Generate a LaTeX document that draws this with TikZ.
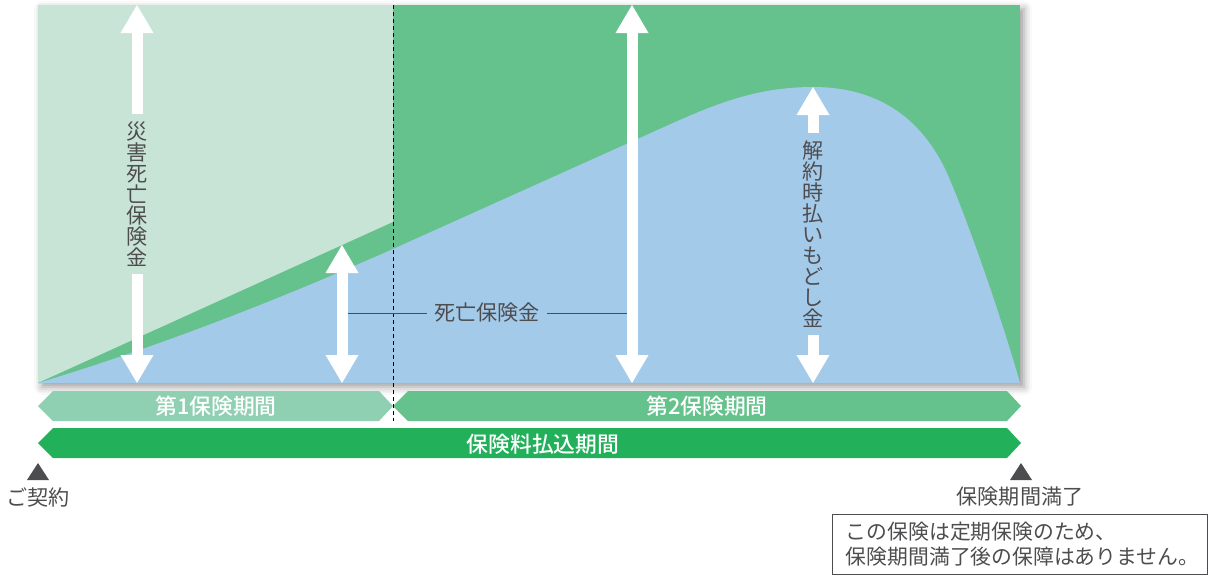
\documentclass[tikz,border=0pt]{standalone}
\usepackage{fontspec}
\setmainfont{Noto Sans CJK JP}
\newfontfamily\barfont{Noto Sans CJK JP Medium}
\usetikzlibrary{arrows.meta,shadows.blur}

\definecolor{palegrn}{HTML}{C8E4D6}
\definecolor{midgrn}{HTML}{65C28C}
\definecolor{termgrn}{HTML}{8FD0B2}
\definecolor{paygrn}{HTML}{22B05A}
\definecolor{valblue}{HTML}{A4CAEA}
\definecolor{txtgray}{HTML}{4D4D4F}

\tikzset{
  bigtip/.tip={Triangle[width=0.825cm,length=0.7cm,line width=0pt]},
  bigarrow/.style={draw=white, line width=0.275cm, -bigtip},
  bigdouble/.style={draw=white, line width=0.275cm, bigtip-bigtip},
  vlabel/.style={text=txtgray, font=\fontsize{15}{15}\selectfont, align=center, inner xsep=0pt, inner ysep=5pt},
  hlabel/.style={text=txtgray, font=\fontsize{15}{18}\selectfont, inner xsep=0.18cm, inner ysep=0pt},
  bartext/.style={text=white, font=\barfont\fontsize{15.5}{17}\selectfont},
  marklabel/.style={text=txtgray, font=\fontsize{15}{17}\selectfont},
  markhead/.style={fill=txtgray},
  notebox/.style={draw=txtgray, line width=0.6pt, text=txtgray, font=\fontsize{14.8}{17.8}\selectfont,
    text width=8.7cm, inner xsep=0.34cm, minimum height=1.5cm, align=left},
}

\begin{document}
\begin{tikzpicture}[x=0.025cm, y=-0.025cm]
  \useasboundingbox (0,0) rectangle (1208,575);
  % chart panels
  \fill[white, blur shadow={shadow xshift=0.1cm, shadow yshift=-0.1cm, shadow blur radius=0.2cm}] (38,5) rectangle (1020,383);
  \fill[palegrn] (38,5) rectangle (393,383);
  \fill[midgrn] (393,5) rectangle (1020,383);
  \fill[midgrn] (38,383) -- (393,222) -- (393,383) -- cycle;
  \fill[valblue] (38,383) .. controls (180,340) and (300,290) .. (393,249)
    -- (673,123) .. controls (720,102) and (760,87) .. (813,87)
    .. controls (880,87) and (925,120) .. (950,180)
    .. controls (975,240) and (1005,330) .. (1020,383) -- cycle;

  % term bars
  \fill[termgrn] (38,406) -- (53,391) -- (379,391) -- (393,406) -- (379,421) -- (53,421) -- cycle;
  \fill[midgrn] (393,406) -- (408,391) -- (1007,391) -- (1021,406) -- (1007,421) -- (408,421) -- cycle;
  \fill[paygrn] (38,443) -- (53,428) -- (1007,428) -- (1021,443) -- (1007,458) -- (53,458) -- cycle;
  \node[bartext] (term1) at (216,406) {第1保険期間};
  \node[bartext] (term2) at (707,406) {第2保険期間};
  \node[bartext] (payterm) at (543,444) {保険料払込期間};

  % term border
  \draw[line width=0.6pt, dash pattern=on 0.1cm off 0.075cm] (393,5) -- (393,421);

  % accident death benefit
  \coordinate (acctop) at (137,5);
  \coordinate (accbot) at (137,383);
  \node[vlabel] (accident) at (137,194) {災\\害\\死\\亡\\保\\険\\金};
  \draw[bigarrow] (accident) -- (acctop);
  \draw[bigarrow] (accident) -- (accbot);

  % death benefit
  \coordinate (d1top) at (342,245);
  \coordinate (d1bot) at (342,383);
  \coordinate (d2top) at (632,5);
  \coordinate (d2bot) at (632,383);
  \draw[bigdouble] (d1bot) -- (d1top);
  \draw[bigdouble] (d2bot) -- (d2top);
  \coordinate (lead1) at (348,313);
  \coordinate (lead2) at (627,313);
  \node[hlabel] (death) at (487,313) {死亡保険金};
  \draw[txtgray, line width=0.6pt] (lead1) -- (death);
  \draw[txtgray, line width=0.6pt] (death) -- (lead2);

  % surrender value
  \coordinate (surtop) at (813,87);
  \coordinate (surbot) at (813,383);
  \node[vlabel] (surrender) at (813,234) {解\\約\\時\\払\\い\\も\\ど\\し\\金};
  \draw[bigarrow] (surrender) -- (surtop);
  \draw[bigarrow] (surrender) -- (surbot);

  % start and end marks
  \fill[markhead] (27,480) -- (38,463) -- (49,480) -- cycle;
  \fill[markhead] (1010,480) -- (1021,463) -- (1032,480) -- cycle;
  \node[marklabel] (start) at (38,497) {ご契約};
  \node[marklabel] (expiry) at (1020,497) {保険期間満了};

  \node[notebox] (note) at (1020,544.5) {この保険は定期保険のため、\\保険期間満了後の保障はありません。};
\end{tikzpicture}
\end{document}
